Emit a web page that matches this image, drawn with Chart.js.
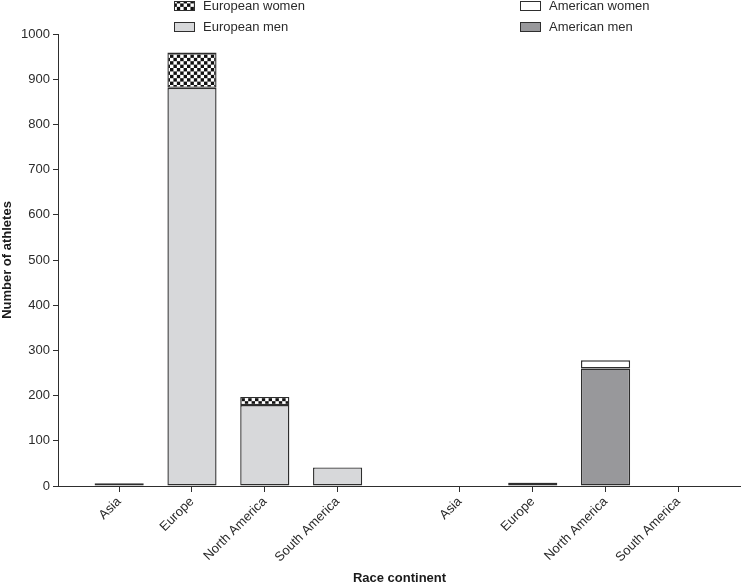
<!DOCTYPE html>
<html>
<head>
<meta charset="utf-8">
<script src="https://cdn.jsdelivr.net/npm/chart.js@4/dist/chart.umd.min.js"></script>
<style>
    html, body { margin: 0; padding: 0; background: #fff; }
    #wrap { width: 741px; height: 586px; }
</style>
</head>
<body>
<div id="wrap"><canvas id="athletes-chart"></canvas></div>
<script>
// values
const continents = ['Asia', 'Europe', 'North America', 'South America']
const europeanMen = [6, 881, 179, 41]
const europeanWomen = [0, 78, 18, 0]
const americanMen = [0, 7, 260, 0]
const americanWomen = [0, 1, 18, 0]
const yTicks = [0, 100, 200, 300, 400, 500, 600, 700, 800, 900, 1000]

// slot positions on the x axis: two groups of four with a gap between
const groupGap = 0.68
const euroPos = continents.map((c, i) => i)
const amerPos = continents.map((c, i) => continents.length + groupGap + i)
const allPos = euroPos.concat(amerPos)
const allLabels = continents.concat(continents)

const textColor = '#2b2b2b'
const lineColor = '#2e2e2e'
const fontFamily = '"Liberation Sans", Arial, Helvetica, sans-serif'

function checkerPattern() {
    const c = document.createElement('canvas')
    c.width = 8
    c.height = 8
    const g = c.getContext('2d')
    g.fillStyle = '#ffffff'
    g.fillRect(0, 0, 8, 8)
    g.fillStyle = '#111111'
    g.fillRect(0, 0, 4, 4)
    g.fillRect(4, 4, 4, 4)
    const p = g.createPattern(c, 'repeat')
    p.setTransform(new DOMMatrix().scale(0.85))
    return p
}

function toPoints(pos, vals) {
    return vals.map((v, i) => ({ x: pos[i], y: v }))
}

const ctx = document.getElementById('athletes-chart').getContext('2d')
const checker = checkerPattern()

// two small legends drawn at the top, like the original figure
const legendPlugin = {
    id: 'twoLegends',
    afterDraw(chart) {
        const c = chart.ctx
        const ds = chart.data.datasets
        const items = [
            { d: ds[1], x: 174, y: 6 },
            { d: ds[0], x: 174, y: 27 },
            { d: ds[3], x: 520, y: 6 },
            { d: ds[2], x: 520, y: 27 }
        ]
        c.save()
        c.font = '13px ' + fontFamily
        c.textBaseline = 'middle'
        items.forEach(it => {
            c.fillStyle = it.d.backgroundColor
            c.fillRect(it.x, it.y - 4.5, 21, 9)
            c.strokeStyle = lineColor
            c.lineWidth = 1
            c.strokeRect(it.x + 0.5, it.y - 4.5, 20, 9)
            c.fillStyle = textColor
            c.fillText(it.d.label, it.x + 29, it.y)
        })
        c.restore()
    }
}

new Chart(ctx, {
    type: 'bar',
    data: {
        datasets: [
            { label: 'European men', data: toPoints(euroPos, europeanMen), backgroundColor: '#d7d8da' },
            { label: 'European women', data: toPoints(euroPos, europeanWomen), backgroundColor: checker },
            { label: 'American men', data: toPoints(amerPos, americanMen), backgroundColor: '#98989b' },
            { label: 'American women', data: toPoints(amerPos, americanWomen), backgroundColor: '#ffffff' }
        ]
    },
    options: {
        responsive: true,
        maintainAspectRatio: false,
        animation: false,
        layout: { padding: { top: 34, right: 0, left: 0, bottom: 0 } },
        datasets: {
            bar: {
                borderColor: lineColor,
                borderWidth: 1.4,
                borderSkipped: false,
                categoryPercentage: 0.75,
                barPercentage: 0.9
            }
        },
        plugins: {
            legend: { display: false },
            tooltip: { enabled: false }
        },
        scales: {
            x: {
                type: 'linear',
                stacked: true,
                offset: false,
                min: -0.84,
                max: continents.length * 2 - 1 + groupGap + 0.86,
                afterBuildTicks: (scale) => {
                    scale.ticks = allPos.map(v => ({ value: v }))
                },
                afterFit: (scale) => { scale.height = 100 },
                grid: { display: true, offset: false, drawOnChartArea: false, drawTicks: true, tickLength: 6, color: lineColor },
                border: { display: true, color: lineColor, width: 1 },
                ticks: {
                    autoSkip: false,
                    minRotation: 45,
                    maxRotation: 45,
                    padding: 2,
                    color: textColor,
                    font: { family: fontFamily, size: 13 },
                    callback: (value, index) => allLabels[index]
                },
                title: {
                    display: true,
                    text: 'Race continent',
                    color: '#1a1a1a',
                    font: { family: fontFamily, size: 13, weight: 'bold' },
                    padding: { top: 4, bottom: 0 }
                }
            },
            y: {
                stacked: true,
                min: 0,
                max: 1000,
                afterBuildTicks: (scale) => {
                    scale.ticks = yTicks.map(v => ({ value: v }))
                },
                afterFit: (scale) => { scale.width = 58 },
                grid: { display: true, drawOnChartArea: false, drawTicks: true, tickLength: 5, color: lineColor },
                border: { display: true, color: lineColor, width: 1 },
                ticks: {
                    padding: 3,
                    color: textColor,
                    font: { family: fontFamily, size: 13 },
                    callback: (value) => String(value)
                },
                title: {
                    display: true,
                    text: 'Number of athletes',
                    color: '#1a1a1a',
                    font: { family: fontFamily, size: 13, weight: 'bold' },
                    padding: { top: 0, bottom: 4 }
                }
            }
        }
    },
    plugins: [legendPlugin]
})
</script>
</body>
</html>
